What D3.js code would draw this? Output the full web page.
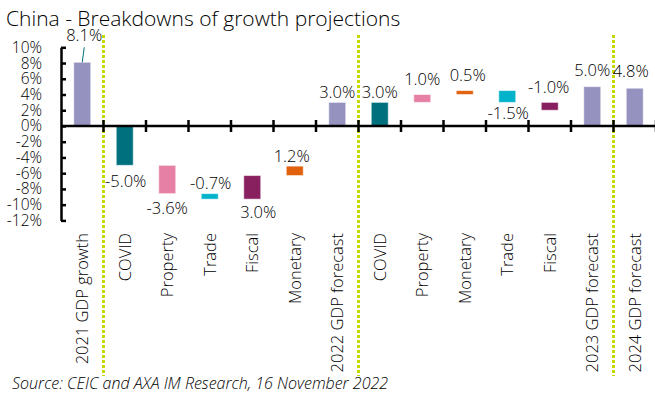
<!DOCTYPE html>
<html><head><meta charset="utf-8">
<script src="https://cdn.jsdelivr.net/npm/d3@7"></script>
<style>
body{margin:0;background:#fff;}
svg{display:block;font-family:"Open Sans",sans-serif;}
</style></head>
<body><svg id="c" width="655" height="396"></svg>
<script>
// ---- data ----
const categories = ["2021 GDP growth","COVID","Property","Trade","Fiscal","Monetary","2022 GDP forecast",
                    "COVID","Property","Monetary","Trade","Fiscal","2023 GDP forecast","2024 GDP forecast"];
const barStart = [0, 0, -5.0, -8.6, -9.3, -6.3, 0, 0, 3.0, 4.0, 4.5, 3.0, 0, 0];
const values   = [8.1, -5.0, -3.6, -0.7, 3.0, 1.2, 3.0, 3.0, 1.0, 0.5, -1.5, -1.0, 5.0, 4.8];
const barKind  = ["total","covid","property","trade","fiscal","monetary","total",
                  "covid","property","monetary","trade","fiscal","total","total"];
const yTicks   = [10, 8, 6, 4, 2, 0, -2, -4, -6, -8, -10, -12];
const separators = [1, 7, 13]; // dotted lines before these category indexes
const title = "China - Breakdowns of growth projections";
const source = "Source: CEIC and AXA IM Research, 16 November 2022";

// ---- styles / layout ----
const colors = {total:"#9592BF", covid:"#00707E", property:"#E680A4", trade:"#00B2CA",
                fiscal:"#88205F", monetary:"#E0620D"};
// label placement: side and pixel nudges
const labelSide = ["lead","below","below","above","below","above","above","above","above","above","below","above","above","above"];
const labelDx   = [2, 1, 0, 1, 6, -3, 0, 0, 0, 3, 1, -1, 0, -4];
const labelDy   = [0, 3, 1, 0, 0, 0, 0, 0, -5, -5, -2, -5, -6, -7];

const svg = d3.select("#c");
const x0 = 61, x1 = 656;
const y = d3.scaleLinear().domain([-12, 10]).range([220.4, 47.3]);
const xb = d3.scaleBand().domain(d3.range(categories.length)).range([x0, x1]);
const xl = d3.scaleLinear().domain([0, categories.length]).range([x0, x1]);
const bw = xb.bandwidth() * 0.4;
const fw = 300;
const ink = "#000";
const locale = d3.formatLocale({decimal: ".", thousands: ",", grouping: [3], currency: ["", ""], minus: "-"});

// title
svg.append("text").attr("x", 6).attr("y", 26).attr("font-size", 21).attr("font-weight", fw)
  .attr("fill", ink).text(title);

// dotted separators
svg.append("g").selectAll("line").data(separators).join("line")
  .attr("x1", d => xl(d)).attr("x2", d => xl(d))
  .attr("y1", 35).attr("y2", 376)
  .attr("stroke", "#C5D900").attr("stroke-width", 3).attr("stroke-dasharray", "3,2");

// bars
svg.append("g").selectAll("rect").data(values).join("rect")
  .attr("x", (d, i) => xb(i) + (xb.bandwidth() - bw) / 2)
  .attr("width", bw)
  .attr("y", (d, i) => y(Math.max(barStart[i], barStart[i] + d)))
  .attr("height", (d, i) => Math.abs(y(barStart[i]) - y(barStart[i] + d)))
  .attr("fill", (d, i) => colors[barKind[i]])
  .attr("stroke", "rgba(255,255,255,0.55)").attr("stroke-width", 1);

// y axis
const yAxis = d3.axisLeft(y).tickValues(yTicks).tickFormat(d => locale.format("d")(d) + "%")
  .tickSizeInner(-5).tickSizeOuter(0).tickPadding(19);
const gy = svg.append("g").attr("transform", `translate(${x0},0)`).call(yAxis);
gy.select(".domain").attr("stroke", "#000").attr("stroke-width", 2.5);
gy.selectAll(".tick line").attr("stroke", "#000").attr("stroke-width", 2.5);
gy.selectAll(".tick text").attr("font-size", 15.5).attr("font-weight", fw).attr("fill", ink)
  .attr("font-family", "Open Sans");

// x axis line and boundary ticks
svg.append("line").attr("x1", x0).attr("x2", x1).attr("y1", y(0)).attr("y2", y(0))
  .attr("stroke", "#000").attr("stroke-width", 2.5);
svg.append("g").selectAll("line").data(d3.range(1, categories.length + 1)).join("line")
  .attr("x1", d => xl(d)).attr("x2", d => xl(d))
  .attr("y1", y(0) - 6).attr("y2", y(0) + 6)
  .attr("stroke", "#000").attr("stroke-width", 2.5);

// category labels
svg.append("g").selectAll("text").data(categories).join("text")
  .attr("transform", (d, i) => `translate(${xb(i) + xb.bandwidth() / 2},233) rotate(-90)`)
  .attr("text-anchor", "end").attr("dy", "0.36em")
  .attr("font-size", 16.5).attr("font-weight", fw).attr("fill", ink).text(d => d);

// data labels
const fmt = d => locale.format(".1f")(d) + "%";
svg.append("g").selectAll("text").data(values).join("text")
  .attr("x", (d, i) => xb(i) + xb.bandwidth() / 2 + labelDx[i])
  .attr("y", (d, i) => {
    const top = y(Math.max(barStart[i], barStart[i] + d));
    const bot = y(Math.min(barStart[i], barStart[i] + d));
    if (labelSide[i] === "lead") return y(10) - 6;
    if (labelSide[i] === "below") return bot + 19 + labelDy[i];
    return top - 4.5 + labelDy[i];
  })
  .attr("text-anchor", "middle").attr("font-size", 16.5).attr("font-weight", fw).attr("fill", ink)
  .text(d => fmt(d));

// leader line for first label
svg.append("line")
  .attr("x1", xb(0) + xb.bandwidth() / 2).attr("y1", y(values[0]))
  .attr("x2", xb(0) + xb.bandwidth() / 2 + 2).attr("y2", y(10))
  .attr("stroke", "#00707E").attr("stroke-width", 1);

// source
svg.append("text").attr("x", 12).attr("y", 389).attr("font-size", 16).attr("font-style", "italic")
  .attr("font-weight", fw).attr("fill", ink).text(source);
</script></body></html>
